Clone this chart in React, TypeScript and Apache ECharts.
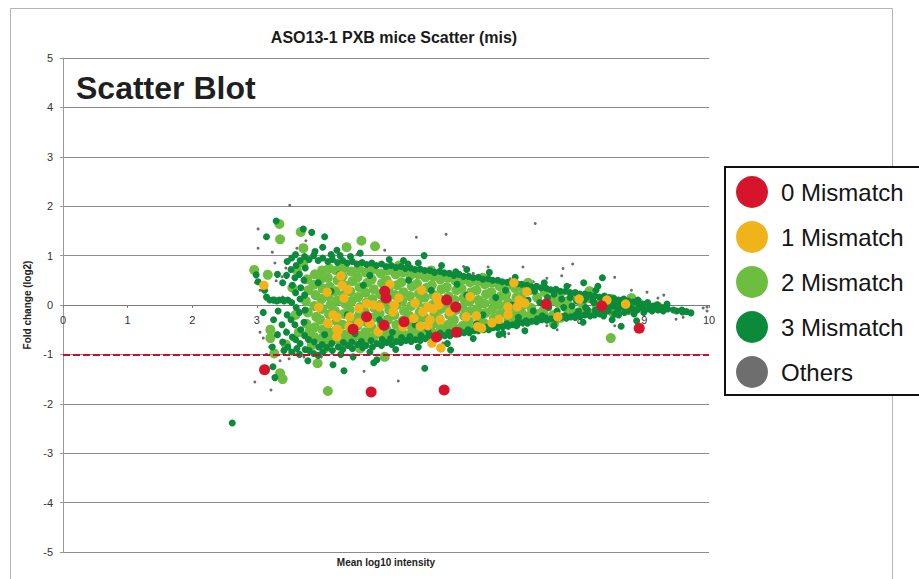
import { useEffect, useRef } from 'react';
import * as echarts from 'echarts';

type Pt = [number, number];

const chartTitle = 'ASO13-1 PXB mice Scatter (mis)';
const overlayTitle = 'Scatter Blot';
const xAxisName = 'Mean log10 intensity';
const yAxisName = 'Fold change (log2)';
const seriesNames = ['0 Mismatch', '1 Mismatch', '2 Mismatch', '3 Mismatch', 'Others'];
const thresholdLine = -1;

// 0 mismatches (mean log10 intensity, log2 fold change)
const mismatch0: Pt[] = [
  [4.98, 0.28], [5.0, 0.14], [4.7, -0.24], [4.97, -0.41], [5.28, -0.34], [5.94, 0.1],
  [6.08, -0.04], [6.09, -0.55], [5.78, -0.65], [4.49, -0.49], [3.12, -1.31], [4.77, -1.76],
  [5.9, -1.72], [7.48, 0.02], [8.34, -0.02], [8.92, -0.47],
];

// 1 mismatch
const mismatch1: Pt[] = [
  [3.11, 0.4], [4.3, 0.59], [4.32, 0.4], [4.09, 0.26], [4.41, 0.31], [4.35, 0.14], [3.96, -0.05],
  [4.18, -0.2], [4.24, -0.25], [4.1, -0.37], [4.26, -0.52], [4.44, -0.24], [4.58, -0.07],
  [4.7, 0.03], [4.24, -0.64], [4.8, 0.0], [4.9, -0.04], [5.06, 0.42], [5.13, 0.0], [5.11, -0.14],
  [5.2, 0.14], [5.45, 0.04], [5.55, 0.3], [5.43, -0.27], [5.65, -0.42], [5.73, -0.08],
  [5.78, 0.16], [5.82, 0.0], [4.43, -0.44], [4.24, -0.49], [4.58, -0.36], [4.75, -0.37],
  [4.88, -0.54], [5.71, -0.77], [5.85, -0.87], [5.57, -0.14], [5.65, -0.04], [5.8, 0.1],
  [5.99, -0.14], [5.84, -0.3], [5.68, -0.3], [5.53, -0.43], [5.26, -0.44], [6.24, -0.24],
  [6.3, 0.17], [6.42, -0.44], [6.4, -0.22], [6.98, 0.45], [7.18, 0.27], [7.06, 0.1],
  [7.15, 0.04], [7.03, -0.04], [6.89, -0.04], [6.89, -0.2], [6.75, -0.29], [6.64, -0.36],
  [6.48, -0.47], [7.66, -0.24], [7.99, 0.12], [8.42, 0.1], [8.71, 0.02],
];

// 2 mismatches
const mismatch2: Pt[] = [
  [3.78, 0.52], [3.8, 0.3], [3.76, 0.08], [3.79, -0.15], [3.77, -0.38], [3.81, -0.55],
  [3.9, 0.62], [3.88, 0.41], [3.91, 0.2], [3.89, -0.02], [3.92, -0.24], [3.9, -0.45], [3.88, -0.64],
  [4.01, 0.7], [3.99, 0.52], [4.02, 0.33], [4.0, 0.12], [4.01, -0.08], [3.98, -0.3], [4.02, -0.5], [4.0, -0.68],
  [4.12, 0.74], [4.1, 0.55], [4.13, 0.37], [4.11, 0.18], [4.14, 0.0], [4.12, -0.19], [4.1, -0.38], [4.13, -0.56], [4.11, -0.72],
  [4.23, 0.7], [4.25, 0.5], [4.22, 0.28], [4.24, 0.09], [4.21, -0.12], [4.24, -0.33], [4.22, -0.52], [4.25, -0.7],
  [4.35, 0.76], [4.33, 0.58], [4.36, 0.4], [4.34, 0.2], [4.37, 0.02], [4.35, -0.18], [4.33, -0.4], [4.36, -0.6], [4.34, -0.74],
  [4.46, 0.68], [4.48, 0.48], [4.45, 0.27], [4.47, 0.08], [4.44, -0.1], [4.47, -0.3], [4.45, -0.5], [4.48, -0.68],
  [4.58, 0.74], [4.56, 0.56], [4.59, 0.36], [4.57, 0.16], [4.6, -0.04], [4.58, -0.22], [4.56, -0.42], [4.59, -0.62],
  [4.69, 0.66], [4.71, 0.45], [4.68, 0.25], [4.7, 0.05], [4.67, -0.14], [4.7, -0.35], [4.68, -0.55], [4.71, -0.7],
  [4.8, 0.72], [4.78, 0.52], [4.81, 0.32], [4.79, 0.12], [4.82, -0.06], [4.8, -0.26], [4.78, -0.46], [4.81, -0.64],
  [4.92, 0.64], [4.94, 0.44], [4.91, 0.22], [4.93, 0.02], [4.9, -0.17], [4.93, -0.38], [4.91, -0.58],
  [5.03, 0.7], [5.01, 0.5], [5.04, 0.3], [5.02, 0.1], [5.05, -0.1], [5.03, -0.3], [5.01, -0.5], [5.04, -0.66],
  [5.15, 0.62], [5.17, 0.4], [5.14, 0.2], [5.16, 0.0], [5.13, -0.2], [5.16, -0.4], [5.14, -0.6],
  [5.26, 0.66], [5.24, 0.46], [5.27, 0.26], [5.25, 0.07], [5.28, -0.12], [5.26, -0.32], [5.24, -0.52], [5.27, -0.64],
  [5.38, 0.6], [5.4, 0.38], [5.37, 0.18], [5.39, -0.02], [5.36, -0.22], [5.39, -0.43], [5.37, -0.6],
  [5.5, 0.62], [5.48, 0.43], [5.51, 0.23], [5.49, 0.04], [5.52, -0.15], [5.5, -0.35], [5.48, -0.54],
  [5.61, 0.56], [5.63, 0.35], [5.6, 0.15], [5.62, -0.05], [5.59, -0.25], [5.62, -0.45], [5.6, -0.6],
  [5.73, 0.58], [5.71, 0.4], [5.74, 0.2], [5.72, 0.0], [5.75, -0.18], [5.73, -0.38], [5.71, -0.55],
  [5.84, 0.52], [5.86, 0.32], [5.83, 0.12], [5.85, -0.08], [5.82, -0.28], [5.85, -0.48],
  [5.96, 0.55], [5.94, 0.36], [5.97, 0.17], [5.95, -0.02], [5.98, -0.2], [5.96, -0.4], [5.94, -0.55],
  [6.07, 0.5], [6.09, 0.3], [6.06, 0.1], [6.08, -0.1], [6.05, -0.3], [6.08, -0.48],
  [6.19, 0.52], [6.17, 0.33], [6.2, 0.14], [6.18, -0.04], [6.21, -0.22], [6.19, -0.42],
  [6.3, 0.46], [6.32, 0.26], [6.29, 0.07], [6.31, -0.12], [6.28, -0.32], [6.31, -0.48],
  [6.42, 0.48], [6.4, 0.3], [6.43, 0.1], [6.41, -0.08], [6.44, -0.26], [6.42, -0.43],
  [6.53, 0.42], [6.55, 0.22], [6.52, 0.03], [6.54, -0.16], [6.51, -0.36],
  [6.65, 0.45], [6.63, 0.26], [6.66, 0.08], [6.64, -0.1], [6.67, -0.28], [6.65, -0.42],
  [6.76, 0.38], [6.78, 0.18], [6.75, 0.0], [6.77, -0.18], [6.74, -0.35],
  [6.88, 0.4], [6.86, 0.22], [6.89, 0.05], [6.87, -0.12], [6.9, -0.3],
  [7.0, 0.34], [7.02, 0.15], [6.99, -0.03], [7.01, -0.2], [6.98, -0.34],
  [7.11, 0.36], [7.09, 0.18], [7.12, 0.0], [7.1, -0.16], [7.13, -0.3],
  [7.23, 0.3], [7.25, -0.06], [7.22, -0.22], [7.34, 0.15], [7.36, -0.18],
  [7.46, 0.26], [7.44, -0.1], [7.47, -0.24], [7.57, 0.1], [7.59, -0.2],
  [7.69, 0.22], [7.67, 0.04], [7.7, -0.26], [7.8, 0.07], [7.82, -0.1],
  [7.92, 0.18], [7.9, -0.16], [8.03, 0.04], [8.05, -0.12], [8.15, 0.14], [8.17, -0.17],
  [8.26, 0.0], [8.38, 0.1], [8.4, -0.06], [8.5, 0.12], [8.52, -0.16], [8.62, 0.06],
  [8.75, 0.02], [8.77, -0.1], [8.9, 0.05],
  [2.96, 0.71], [3.17, 0.61], [3.21, -0.5], [3.21, -0.67], [3.27, -0.98], [3.36, -1.38],
  [3.4, -1.5], [3.35, 1.64], [3.36, 1.33], [3.68, 1.48], [3.72, 1.15], [4.39, 1.17],
  [4.62, 1.3], [4.83, 1.19], [4.1, -1.74], [3.94, -1.18], [4.98, -1.05], [8.48, -0.67],
  [3.55, 0.35], [3.6, -0.2], [3.65, -0.55], [3.62, 0.7], [4.05, -0.88], [4.6, -0.88],
  [5.2, 0.8], [5.7, 0.7], [6.5, 0.55], [7.2, 0.45], [7.6, -0.38], [8.15, 0.28],
  [9.0, -0.05], [9.2, -0.02], [8.8, 0.14], [3.45, -0.8], [3.72, 0.85], [3.85, -0.82],
];

// 3 mismatches
const mismatch3: Pt[] = [
  [3.25, 0.1], [3.26, -0.3], [3.24, -0.85],
  [3.32, 0.62], [3.31, 0.08], [3.33, -0.12], [3.32, -0.6],
  [3.4, 0.45], [3.41, 0.1], [3.39, -0.4], [3.4, -0.75], [3.42, -0.92],
  [3.47, 0.88], [3.46, 0.6], [3.48, 0.1], [3.47, -0.2], [3.46, -0.55], [3.48, -0.85],
  [3.54, 0.95], [3.53, 0.72], [3.55, 0.4], [3.54, 0.05], [3.53, -0.3], [3.55, -0.65], [3.54, -0.95],
  [3.6, 1.02], [3.61, 0.8], [3.59, 0.55], [3.6, 0.25], [3.61, -0.05], [3.59, -0.4], [3.6, -0.7], [3.62, -0.88],
  [3.67, 0.9], [3.66, 0.62], [3.68, 0.35], [3.67, 0.12], [3.66, -0.15], [3.68, -0.5], [3.67, -0.78], [3.66, -1.0],
  [3.74, 0.98], [3.75, 0.75], [3.73, 0.5], [3.74, 0.2], [3.75, -0.1], [3.73, -0.35], [3.74, -0.62], [3.75, -0.9],
  [3.81, 0.92], [3.8, -0.7], [3.81, -0.92],
  [3.88, 1.0], [3.89, -0.75], [3.88, -0.98],
  [3.95, 0.9], [3.96, -0.85], [4.02, 0.95], [4.01, -0.8], [4.02, -0.95],
  [4.1, 0.88], [4.09, -0.86], [4.17, 0.92], [4.16, -0.78], [4.17, -0.92],
  [4.25, 0.86], [4.26, -0.85], [4.33, 0.9], [4.34, -0.76], [4.33, -0.9],
  [4.4, 0.85], [4.41, -0.82], [4.48, 0.88], [4.47, -0.75], [4.48, -0.88],
  [4.55, 0.83], [4.56, -0.8], [4.63, 0.86], [4.62, -0.74], [4.64, -0.86],
  [4.7, 0.82], [4.69, -0.82], [4.78, 0.85], [4.77, -0.72], [4.79, -0.85],
  [4.85, 0.8], [4.86, -0.78], [4.93, 0.83], [4.94, -0.7], [4.93, -0.82],
  [5.0, 0.78], [5.01, -0.76], [5.08, 0.8], [5.07, -0.68], [5.09, -0.8],
  [5.15, 0.76], [5.16, -0.74], [5.23, 0.78], [5.24, -0.66], [5.23, -0.76],
  [5.3, 0.74], [5.31, -0.72], [5.38, 0.75], [5.37, -0.64], [5.39, -0.74],
  [5.45, 0.72], [5.46, -0.7], [5.53, 0.73], [5.54, -0.62], [5.53, -0.72],
  [5.6, 0.7], [5.61, -0.68], [5.68, 0.7], [5.67, -0.6], [5.69, -0.68],
  [5.75, 0.66], [5.76, -0.65], [5.83, 0.68], [5.84, -0.57], [5.83, -0.64],
  [5.9, 0.65], [5.91, -0.62], [5.98, 0.64], [5.97, -0.55], [5.99, -0.62],
  [6.05, 0.6], [6.06, -0.58], [6.13, 0.62], [6.14, -0.52], [6.13, -0.58],
  [6.2, 0.58], [6.21, -0.56], [6.28, 0.58], [6.27, -0.5], [6.29, -0.56],
  [6.35, 0.55], [6.36, -0.52], [6.43, 0.56], [6.44, -0.46], [6.43, -0.52],
  [6.5, 0.52], [6.51, -0.5], [6.58, 0.53], [6.57, -0.44], [6.59, -0.5],
  [6.65, 0.5], [6.66, -0.46], [6.73, 0.5], [6.74, -0.4], [6.73, -0.46],
  [6.8, 0.47], [6.81, -0.44], [6.88, 0.46], [6.87, -0.38], [6.89, -0.43],
  [6.95, 0.44], [6.96, -0.4], [7.03, 0.43], [7.04, -0.34], [7.03, -0.4],
  [7.1, 0.42], [7.11, -0.36], [7.18, 0.4], [7.17, -0.32], [7.19, -0.37],
  [7.25, 0.37], [7.26, -0.33], [7.33, 0.38], [7.34, -0.28], [7.33, -0.34],
  [7.4, 0.35], [7.41, -0.3], [7.48, 0.34], [7.47, -0.26], [7.49, -0.31],
  [7.55, 0.31], [7.56, -0.28], [7.63, 0.32], [7.64, -0.24], [7.63, -0.29],
  [7.7, 0.28], [7.71, -0.25], [7.78, 0.28], [7.77, -0.22], [7.79, -0.27],
  [7.85, 0.25], [7.86, -0.24], [7.93, 0.25], [7.94, -0.2], [7.93, -0.25],
  [8.0, 0.22], [8.01, -0.22], [8.08, 0.22], [8.07, 0.1], [8.09, -0.05], [8.08, -0.2],
  [8.15, 0.2], [8.16, -0.22], [8.23, 0.18], [8.22, 0.05], [8.24, -0.1], [8.23, -0.2],
  [8.3, 0.16], [8.31, -0.18], [8.38, 0.18], [8.37, 0.12], [8.39, -0.02], [8.38, -0.15], [8.37, -0.22],
  [8.45, 0.15], [8.46, 0.05], [8.44, -0.12], [8.53, 0.13], [8.52, -0.02], [8.54, -0.18],
  [8.6, 0.1], [8.61, 0.0], [8.59, -0.1], [8.6, -0.2], [8.68, 0.12], [8.67, -0.05], [8.69, -0.15],
  [8.75, 0.08], [8.76, -0.02], [8.74, -0.12], [8.83, 0.06], [8.82, -0.08], [8.84, -0.18],
  [8.9, 0.1], [8.91, 0.0], [8.89, -0.1], [8.98, 0.02], [8.97, -0.06], [8.99, -0.15],
  [9.05, 0.05], [9.06, -0.08], [9.13, -0.02], [9.12, -0.12], [9.2, 0.0], [9.21, -0.1],
  [9.28, -0.05], [9.29, -0.12], [9.35, 0.02], [9.36, -0.08], [9.45, -0.1], [9.5, -0.12],
  [9.58, -0.1], [9.59, -0.14], [9.65, -0.13], [9.72, -0.16],
  // ragged outer edge of the cloud
  [3.9, 1.08], [4.15, 1.02], [4.45, 0.98], [4.6, 1.05], [5.05, 0.92], [5.27, 0.9],
  [5.5, 0.85], [5.86, 0.8], [6.25, 0.72], [6.6, 0.66], [7.0, 0.56], [7.45, 0.45],
  [7.8, 0.38], [8.25, 0.3], [3.95, -1.02], [4.3, -1.0], [4.75, -0.95], [5.15, -0.9],
  [5.5, -0.85], [5.95, -0.78], [6.35, -0.68], [6.75, -0.6], [7.15, -0.52], [7.6, -0.42],
  [8.05, -0.35], [8.5, -0.3],
  // inside the cloud
  [7.2, 0.1], [7.28, -0.12], [7.3, 0.28], [7.38, 0.05], [7.42, -0.22], [7.5, 0.15],
  [7.52, -0.05], [7.6, 0.22], [7.65, -0.12], [7.72, 0.12], [7.75, -0.05], [7.85, 0.15],
  [7.88, -0.02], [7.95, 0.08], [7.98, -0.12], [8.1, 0.15], [8.12, -0.1], [8.2, 0.08],
  [8.3, -0.08], [8.35, 0.05], [8.45, -0.05], [8.55, 0.05], [8.65, -0.03],
  [4.15, 0.28], [4.4, -0.2], [4.65, 0.4], [4.9, -0.3], [5.2, 0.1], [5.45, -0.4],
  [5.7, 0.3], [6.0, -0.15], [6.25, 0.2], [6.5, -0.2], [6.7, 0.15], [6.95, 0.0],
  [3.95, 0.45], [4.05, -0.6], [4.28, 0.62], [4.52, -0.58], [4.75, 0.6], [5.1, -0.55],
  [5.35, 0.5], [5.65, -0.5], [6.1, 0.42], [6.4, -0.38], [6.85, 0.3], [7.05, -0.25],
  // scattered away from the cloud
  [2.62, -2.39], [2.99, 0.61], [3.02, 0.47], [3.15, 0.16], [3.15, 1.38], [3.3, 1.7],
  [3.72, 1.54], [3.85, 1.47], [4.02, 1.17], [4.05, 1.38], [4.29, 1.0], [4.24, 1.11],
  [5.59, 1.0], [5.34, 0.83], [6.08, 0.67], [3.25, -1.25], [3.28, -1.47], [4.35, -1.33],
  [4.81, -1.17], [4.86, -1.11], [3.79, -1.13], [4.18, -1.21], [4.49, -1.05], [5.6, -1.28],
  [6.0, -0.91], [8.35, 0.55], [8.06, 0.45], [8.28, 0.38], [8.64, -0.43], [8.88, -0.32],
  [6.81, -0.57], [7.02, -0.42], [3.2, 0.1], [3.27, 0.1], [3.35, 0.1], [3.42, 0.08],
  [3.1, -0.15], [3.12, 0.3],
];

// remaining probes
const others: Pt[] = [
  [3.51, 2.02], [3.02, 1.54], [3.02, 1.15], [3.24, 1.07], [3.14, 0.67], [3.39, 0.57],
  [3.3, 0.49], [3.4, 0.16], [3.05, -0.55], [3.1, -0.67], [3.22, -0.61], [3.36, -1.13],
  [3.5, -1.09], [2.97, -1.56], [3.22, -1.72], [3.62, 1.15], [3.67, 0.85], [3.93, 1.11],
  [3.76, 1.3], [3.58, -0.98], [3.73, -1.05], [3.56, 0.95], [4.66, -1.34], [5.19, -1.54],
  [4.98, 1.11], [5.47, 1.37], [5.93, 1.43], [5.05, 0.9], [5.42, 0.67], [6.35, 0.64],
  [6.58, 0.57], [5.88, -0.77], [6.35, -0.67], [5.94, -0.79], [6.58, 0.77], [6.92, 0.53],
  [7.28, 0.47], [7.49, 0.54], [7.85, 0.4], [7.72, 0.59], [7.65, -0.5], [7.49, -0.42],
  [6.84, -0.64], [7.12, -0.41], [8.16, 0.25], [7.31, 1.65], [7.12, 0.77], [7.74, 0.74],
  [7.89, 0.83], [8.54, 0.56], [9.04, 0.26], [9.21, 0.14], [9.49, -0.29], [9.43, -0.1],
  [9.91, -0.06], [9.97, -0.04], [9.97, -0.12], [8.54, -0.42], [3.28, 0.85], [3.45, 0.75],
  [3.2, -0.85], [3.45, -0.5], [3.15, -1.0], [4.0, -1.05], [4.55, 1.02], [4.2, 1.0],
  [6.2, 0.78], [6.9, -0.58], [8.8, 0.3], [9.3, 0.2], [9.6, -0.25], [3.05, 0.3], [2.98, 0.45],
];

const colors = {
  m0: '#d6152d',
  m1: '#f0b41a',
  m2: '#6cbd40',
  m3: '#0b8a3b',
  other: '#6e6e6e',
};

const sansFamily = '"Liberation Sans", Arial, sans-serif';

// plot area edges in page pixels
const plotTop = 58;
const plotBottom = 552;

export default function App() {
  const ref = useRef<HTMLDivElement>(null);

  useEffect(() => {
    if (!ref.current) return;
    const chart = echarts.init(ref.current, null, { renderer: 'svg' });

    // the x axis sits on the y = 0 line, labels included
    const zeroOffset = -(plotBottom - plotTop) / 2;

    chart.setOption({
      animation: false,
      backgroundColor: '#ffffff',
      grid: { left: 63, top: plotTop, right: 210, bottom: 579 - plotBottom, containLabel: false },
      xAxis: {
        type: 'value',
        min: 0,
        max: 10,
        interval: 1,
        position: 'bottom',
        offset: zeroOffset,
        axisLine: { onZero: false, lineStyle: { color: '#7a7a7a', width: 1 } },
        axisTick: { show: true, length: 3, lineStyle: { color: '#7a7a7a' } },
        axisLabel: { color: '#333', fontSize: 11, fontFamily: sansFamily, margin: 9 },
        splitLine: { show: false },
      },
      yAxis: {
        type: 'value',
        min: -5,
        max: 5,
        interval: 1,
        name: yAxisName,
        nameLocation: 'middle',
        nameGap: 30,
        nameRotate: 90,
        nameTextStyle: { color: '#222', fontSize: 10, fontWeight: 'bold', fontFamily: sansFamily },
        axisLine: { show: true, onZero: false, lineStyle: { color: '#9a9a9a', width: 1 } },
        axisTick: { show: true, length: 3, lineStyle: { color: '#9a9a9a' } },
        axisLabel: { color: '#333', fontSize: 11, fontFamily: sansFamily, margin: 10 },
        splitLine: { show: true, lineStyle: { color: '#8c8c8c', width: 1 } },
      },
      legend: {
        orient: 'vertical',
        left: 725,
        top: 167,
        data: seriesNames,
        icon: 'circle',
        itemWidth: 32,
        itemHeight: 32,
        itemGap: 13,
        padding: [9, 80, 7, 11],
        borderColor: '#111',
        borderWidth: 2,
        backgroundColor: '#ffffff',
        selectedMode: false,
        textStyle: {
          fontSize: 24,
          fontFamily: sansFamily,
          color: '#151515',
          padding: [0, 0, 0, 8],
        },
      },
      graphic: [
        {
          type: 'rect',
          silent: true,
          z: -10,
          shape: { x: 10.5, y: 8.5, width: 882, height: 620 },
          style: { fill: 'none', stroke: '#b4b4b4', lineWidth: 1 },
        },
        {
          type: 'text',
          silent: true,
          x: 394,
          y: 37,
          style: {
            text: chartTitle,
            fill: '#1a1a1a',
            font: `bold 16px ${sansFamily}`,
            align: 'center',
            verticalAlign: 'middle',
          },
        },
        {
          type: 'text',
          silent: true,
          x: 76,
          y: 88,
          style: {
            text: overlayTitle,
            fill: '#1f1f1f',
            font: `bold 32px ${sansFamily}`,
            align: 'left',
            verticalAlign: 'middle',
          },
        },
        {
          type: 'text',
          silent: true,
          x: 386,
          y: 562,
          style: {
            text: xAxisName,
            fill: '#222',
            font: `bold 10px ${sansFamily}`,
            align: 'center',
            verticalAlign: 'middle',
          },
        },
      ],
      series: [
        {
          name: seriesNames[4],
          type: 'scatter',
          symbolSize: 3,
          itemStyle: { color: colors.other, opacity: 1 },
          data: others,
          silent: true,
        },
        {
          name: seriesNames[2],
          type: 'scatter',
          symbolSize: 10,
          itemStyle: { color: colors.m2, opacity: 1 },
          data: mismatch2,
          silent: true,
        },
        {
          name: seriesNames[3],
          type: 'scatter',
          symbolSize: 7,
          itemStyle: { color: colors.m3, opacity: 1 },
          data: mismatch3,
          silent: true,
        },
        {
          name: seriesNames[1],
          type: 'scatter',
          symbolSize: 9.5,
          itemStyle: { color: colors.m1, opacity: 1 },
          data: mismatch1,
          silent: true,
        },
        {
          name: seriesNames[0],
          type: 'scatter',
          symbolSize: 11,
          itemStyle: { color: colors.m0, opacity: 1 },
          data: mismatch0,
          silent: true,
          markLine: {
            silent: true,
            symbol: 'none',
            label: { show: false },
            lineStyle: { color: '#c8102e', width: 2, type: [7, 3] },
            data: [{ yAxis: thresholdLine }],
          },
        },
      ],
    });

    return () => chart.dispose();
  }, []);

  return (
    <div
      ref={ref}
      style={{ position: 'fixed', left: 0, top: 0, width: 919, height: 579, background: '#ffffff' }}
    />
  );
}
